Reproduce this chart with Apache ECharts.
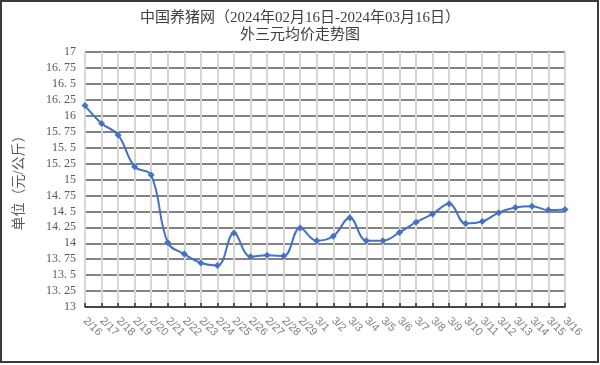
<!DOCTYPE html>
<html>
<head>
<meta charset="utf-8">
<script src="https://cdn.jsdelivr.net/npm/echarts@6/dist/echarts.min.js"></script>
<style>
html,body{margin:0;padding:0;background:#fff;}
#c{width:600px;height:365px;}
</style>
</head>
<body>
<div id="c"></div>
<script>
const titleLine1 = '中国养猪网（2024年02月16日-2024年03月16日）';
const titleLine2 = '外三元均价走势图';
const yAxisName = '单位（元/公斤）';
const categories = ['2/16','2/17','2/18','2/19','2/20','2/21','2/22','2/23','2/24','2/25','2/26','2/27','2/28','2/29',
  '3/1','3/2','3/3','3/4','3/5','3/6','3/7','3/8','3/9','3/10','3/11','3/12','3/13','3/14','3/15','3/16'];
const prices = [16.16,15.88,15.70,15.20,15.07,14.01,13.83,13.69,13.65,14.16,13.79,13.81,13.80,14.24,
  14.04,14.11,14.40,14.04,14.04,14.17,14.33,14.46,14.62,14.31,14.34,14.48,14.56,14.58,14.52,14.53];
const yMin = 13, yMax = 17, yStep = 0.25;

const serif = '"Liberation Serif","DejaVu Serif","Noto Sans CJK SC",serif';
const chart = echarts.init(document.getElementById('c'), null, {renderer:'canvas'});
chart.setOption({
  animation:false,
  backgroundColor:'#fff',
  title:[
    {text:titleLine1, left:'center', top:6, textStyle:{fontFamily:serif, fontSize:15, fontWeight:'normal', color:'#404040'}},
    {text:titleLine2, left:'center', top:23, textStyle:{fontFamily:serif, fontSize:15, fontWeight:'normal', color:'#404040'}}
  ],
  graphic:[{type:'rect', shape:{x:1, y:1, width:597, height:361}, style:{fill:'none', stroke:'#3a3a3a', lineWidth:2}, silent:true}],
  grid:{left:85, right:35, top:52, bottom:58, containLabel:false},
  xAxis:{
    type:'category', data:categories, boundaryGap:false,
    axisLine:{show:true, lineStyle:{color:'#333', width:1.5}},
    axisTick:{show:true, inside:true, length:4, lineStyle:{color:'#333', width:1.5}},
    axisLabel:{rotate:-45, margin:12, fontSize:11, color:'#808080', fontFamily:'"Liberation Sans",Arial,sans-serif', interval:0},
    splitLine:{show:true, lineStyle:{color:'#d6d6d6', width:2}}
  },
  yAxis:{
    type:'value', min:yMin, max:yMax, interval:yStep,
    name:yAxisName, nameLocation:'middle', nameGap:59, nameRotate:90,
    nameTextStyle:{fontFamily:serif, fontSize:14, color:'#595959'},
    axisLine:{show:false}, axisTick:{show:false},
    axisLabel:{margin:9, fontSize:12, color:'#595959', fontFamily:serif,
      formatter:function(v){return String(+v.toFixed(2)).replace('.', '. ');}},
    splitLine:{show:true, lineStyle:{color:'#5a5a5a', width:1.5}}
  },
  series:[{
    type:'line', data:prices, smooth:0.4,
    symbol:'diamond', symbolSize:7,
    lineStyle:{color:'#4472c4', width:2},
    itemStyle:{color:'#4472c4'}
  }]
});
</script>
</body>
</html>
